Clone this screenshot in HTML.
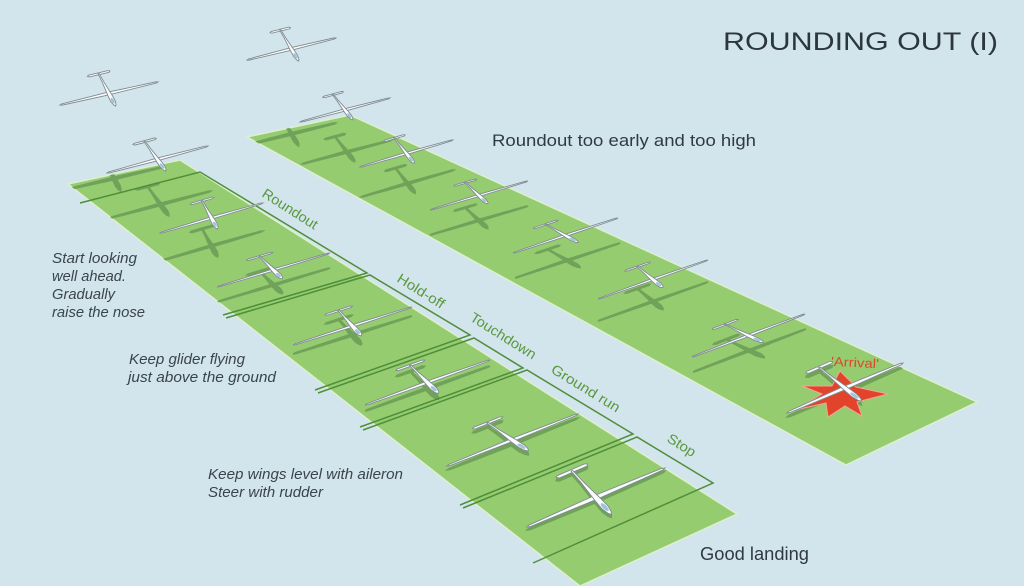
<!DOCTYPE html>
<html>
<head>
<meta charset="utf-8">
<style>
  html,body{margin:0;padding:0;background:#d3e5ec;}
  svg{display:block;}
  .t{font-family:"Liberation Sans",sans-serif;}
</style>
</head>
<body>
<svg width="1024" height="586" viewBox="0 0 1024 586" xmlns="http://www.w3.org/2000/svg">
  <defs>
    <g id="gl">
      <polygon points="-0.2,-1.79 0.2,-1.79 0.23,-1.72 0.2,-1.64 -0.2,-1.64 -0.23,-1.72" fill="#fbfcfc" stroke="#7f8b92" stroke-width="0.9" vector-effect="non-scaling-stroke"/>
      <polygon points="-1,0 -0.96,-0.05 0,-0.12 0.96,-0.05 1,0 0.96,0.05 0,0.1 -0.96,0.05" fill="#fbfcfc" stroke="#7f8b92" stroke-width="0.9" vector-effect="non-scaling-stroke"/>
      <polygon points="0,1.1 0.025,0.97 0.045,0.65 0.04,0.15 0.016,-1 0.012,-1.72 -0.012,-1.72 -0.016,-1 -0.04,0.15 -0.045,0.65 -0.025,0.97" fill="#fbfcfc" stroke="#7f8b92" stroke-width="0.9" vector-effect="non-scaling-stroke"/>
      <ellipse cx="0" cy="0.62" rx="0.028" ry="0.25" fill="#9fc3da"/>
    </g>
    <g id="sh" fill="#6c9e58" stroke="#6c9e58" stroke-width="1.4">
      <polygon vector-effect="non-scaling-stroke" points="-0.2,-1.79 0.2,-1.79 0.23,-1.72 0.2,-1.64 -0.2,-1.64 -0.23,-1.72"/>
      <polygon vector-effect="non-scaling-stroke" points="-1,0 -0.96,-0.05 0,-0.12 0.96,-0.05 1,0 0.96,0.05 0,0.1 -0.96,0.05"/>
      <polygon vector-effect="non-scaling-stroke" points="0,1.1 0.025,0.97 0.045,0.65 0.04,0.15 0.016,-1 0.012,-1.72 -0.012,-1.72 -0.016,-1 -0.04,0.15 -0.045,0.65 -0.025,0.97"/>
    </g>
    <clipPath id="strips">
      <polygon points="68,184 180,160 737,514 580,586"/>
      <polygon points="247,137 350,115 977,402 846,465"/>
    </clipPath>
  </defs>

  <rect x="0" y="0" width="1024" height="586" fill="#d3e5ec"/>

  <!-- strips -->
  <polygon points="68,184 180,160 737,514 580,586" fill="#96cc70" stroke="#dcefcf" stroke-width="1.5"/>
  <polygon points="247,137 350,115 977,402 846,465" fill="#96cc70" stroke="#dcefcf" stroke-width="1.5"/>

  <!-- shadows -->
  <g clip-path="url(#strips)" opacity="0.9">
    <use href="#sh" transform="translate(5,85) matrix(49,-11.5,6,11.5,109,93.5)"/>
    <use href="#sh" transform="translate(0,85) matrix(44.5,-11,6.5,11,291.5,49)"/>
    <use href="#sh" transform="translate(2,42) matrix(45,-12,7,9,345,110)"/>
    <use href="#sh" transform="translate(3,45) matrix(50.5,-13.5,7.5,10.5,157.5,159.5)"/>
    <use href="#sh" transform="translate(1,30) matrix(46.5,-13.5,7,9,406.5,153.5)"/>
    <use href="#sh" transform="translate(0,25) matrix(49,-14.5,8,7.5,479,195.5)"/>
    <use href="#sh" transform="translate(2,25) matrix(52.5,-17.5,11.5,6.5,565.5,235.5)"/>
    <use href="#sh" transform="translate(0,22) matrix(55,-19.5,9,7.5,653,279.5)"/>
    <use href="#sh" transform="translate(1,15) matrix(56.5,-21.5,13.5,6.5,748.5,335.5)"/>
    <use href="#sh" transform="translate(0,4) matrix(58,-25,15,12,845,388)"/>
    <use href="#sh" transform="translate(0,28) matrix(51.5,-15,5.5,10,211.5,218)"/>
    <use href="#sh" transform="translate(0,15) matrix(56.5,-17,8,8,273.5,270)"/>
    <use href="#sh" transform="translate(0,9) matrix(59.5,-19,8,9,352.5,326)"/>
    <use href="#sh" transform="translate(0,6) matrix(62.5,-22.5,10,10,427.5,382.5)"/>
    <use href="#sh" transform="translate(0,4) matrix(65.5,-26,14.5,10,512.5,440)"/>
    <use href="#sh" transform="translate(0,3) matrix(69,-29.5,14,15.5,596,497.5)"/>
  </g>

  <!-- stage boxes -->
  <g fill="none" stroke="#4f8e3a" stroke-width="1.5" stroke-linejoin="miter">
    <polyline points="80,203 200,172 367,273 223,315"/>
    <polyline points="226,318 370,275 470,335 315,390"/>
    <polyline points="318,393 474,338 523,368 360,427"/>
    <polyline points="363,430 527,370 633,434 460,505"/>
    <polyline points="463,508 637,437 713,483 533,563"/>
  </g>

  <!-- star -->
  <polygon points="840,371 856,387 888,394 857,402 862,416 845,406 828,417 826,403 795,410 822,394 802,386 832,386" fill="#e2432b" stroke="#f3a594" stroke-width="1"/>

  <!-- gliders -->
  <use href="#gl" transform="matrix(49,-11.5,6,11.5,109,93.5)"/>
  <use href="#gl" transform="matrix(44.5,-11,6.5,11,291.5,49)"/>
  <use href="#gl" transform="matrix(45,-12,7,9,345,110)"/>
  <use href="#gl" transform="matrix(50.5,-13.5,7.5,10.5,157.5,159.5)"/>
  <use href="#gl" transform="matrix(46.5,-13.5,7,9,406.5,153.5)"/>
  <use href="#gl" transform="matrix(49,-14.5,8,7.5,479,195.5)"/>
  <use href="#gl" transform="matrix(52.5,-17.5,11.5,6.5,565.5,235.5)"/>
  <use href="#gl" transform="matrix(55,-19.5,9,7.5,653,279.5)"/>
  <use href="#gl" transform="matrix(56.5,-21.5,13.5,6.5,748.5,335.5)"/>
  <use href="#gl" transform="matrix(58,-25,15,12,845,388)"/>
  <use href="#gl" transform="matrix(51.5,-15,5.5,10,211.5,218)"/>
  <use href="#gl" transform="matrix(56.5,-17,8,8,273.5,270)"/>
  <use href="#gl" transform="matrix(59.5,-19,8,9,352.5,326)"/>
  <use href="#gl" transform="matrix(62.5,-22.5,10,10,427.5,382.5)"/>
  <use href="#gl" transform="matrix(65.5,-26,14.5,10,512.5,440)"/>
  <use href="#gl" transform="matrix(69,-29.5,14,15.5,596,497.5)"/>

  <!-- stage labels -->
  <g class="t" fill="#5a9840" font-size="14">
    <text transform="translate(261,196) rotate(32.5)" textLength="63" lengthAdjust="spacingAndGlyphs">Roundout</text>
    <text transform="translate(396,281) rotate(32)" textLength="53" lengthAdjust="spacingAndGlyphs">Hold-off</text>
    <text transform="translate(469,320) rotate(32)" textLength="75" lengthAdjust="spacingAndGlyphs">Touchdown</text>
    <text transform="translate(550,372) rotate(31.5)" textLength="78" lengthAdjust="spacingAndGlyphs">Ground run</text>
    <text transform="translate(666,441) rotate(32)" textLength="31" lengthAdjust="spacingAndGlyphs">Stop</text>
  </g>

  <!-- Arrival -->
  <text class="t" x="831" y="367" font-size="13" fill="#e0452a" textLength="48" lengthAdjust="spacingAndGlyphs" transform="rotate(3 855 362)">'Arrival'</text>

  <!-- titles -->
  <text class="t" x="723" y="50" font-size="25" fill="#2c363d" textLength="275" lengthAdjust="spacingAndGlyphs">ROUNDING OUT (I)</text>
  <text class="t" x="492" y="146" font-size="17" fill="#2f3a42" textLength="264" lengthAdjust="spacingAndGlyphs">Roundout too early and too high</text>
  <text class="t" x="700" y="560" font-size="18" fill="#2f3a42" textLength="109" lengthAdjust="spacingAndGlyphs">Good landing</text>

  <!-- notes -->
  <g class="t" font-style="italic" font-size="15" fill="#3a444b">
    <text x="52" y="263" textLength="85" lengthAdjust="spacingAndGlyphs">Start looking</text>
    <text x="52" y="281" textLength="74" lengthAdjust="spacingAndGlyphs">well ahead.</text>
    <text x="52" y="299" textLength="63" lengthAdjust="spacingAndGlyphs">Gradually</text>
    <text x="52" y="317" textLength="93" lengthAdjust="spacingAndGlyphs">raise the nose</text>
    <text x="129" y="364" textLength="116" lengthAdjust="spacingAndGlyphs">Keep glider flying</text>
    <text x="128" y="382" textLength="148" lengthAdjust="spacingAndGlyphs">just above the ground</text>
    <text x="208" y="479" textLength="195" lengthAdjust="spacingAndGlyphs">Keep wings level with aileron</text>
    <text x="208" y="497" textLength="115" lengthAdjust="spacingAndGlyphs">Steer with rudder</text>
  </g>
</svg>
</body>
</html>
